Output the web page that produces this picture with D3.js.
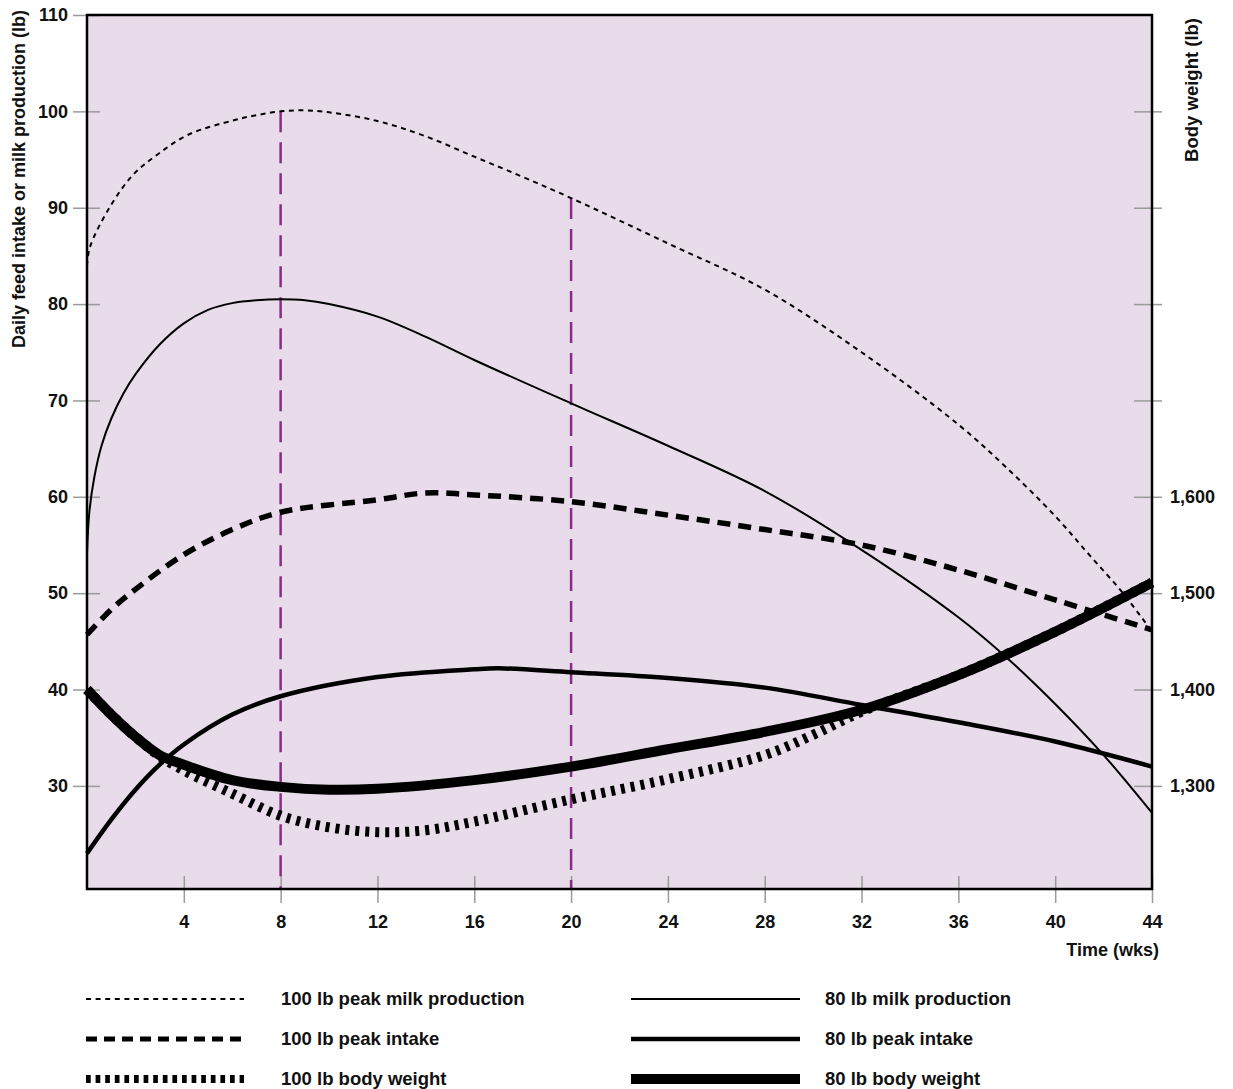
<!DOCTYPE html>
<html>
<head>
	<title>Milk, intake and body weight</title>
	<script src="https://cdn.jsdelivr.net/npm/d3@7/dist/d3.min.js"></script>
	<style type="text/css">
	html, body{
		margin:0;
		background:#fff;
	}
	svg text{
		font-family: "Liberation Sans", Arial, sans-serif;
		font-weight: bold;
		fill: #111;
	}
	</style>
</head>
<body>
<svg id="chart" width="1233" height="1089"></svg>
<script type="text/javascript">
// values, in left-axis units (lb/day); body weight = 1000 + 10*value
var milk100Weeks = [0, 0.12, 0.95, 1.9, 2.9, 4.2, 6.1, 7, 8, 9, 10, 12, 14, 16, 18, 20, 24, 28, 32, 36, 38, 40, 41.4, 42.8, 44];
var milk100 = [84, 85.9, 90.1, 93.4, 95.5, 97.6, 99.1, 99.6, 100, 100.1, 99.9, 99, 97.4, 95.3, 93.2, 91, 86.3, 81.5, 75, 67.5, 63, 58, 54, 50, 46];

var milk80Weeks = [0, 0.1, 0.3, 0.6, 1, 1.5, 2, 3, 4, 5, 6, 7, 8, 9, 10, 12, 14, 16, 20, 24, 28, 32, 36, 38, 40, 42, 44];
var milk80 = [54.2, 58.5, 62, 65.3, 68.1, 70.7, 72.7, 75.8, 78, 79.4, 80.1, 80.4, 80.5, 80.4, 80, 78.7, 76.6, 74.2, 69.7, 65.3, 60.6, 54.5, 47.5, 43.3, 38.5, 33.2, 27.2];

var intake100Weeks = [0, 1, 2, 4, 6, 8, 12, 14, 16, 20, 24, 28, 32, 36, 40, 44];
var intake100 = [45.7, 48.3, 50.4, 54, 56.6, 58.4, 59.7, 60.4, 60.2, 59.5, 58.1, 56.6, 55, 52.4, 49.3, 46.2];

var intake80Weeks = [0, 1, 2, 3, 4, 6, 8, 12, 16, 17, 20, 24, 28, 32, 36, 40, 44];
var intake80 = [23, 26.5, 29.6, 32.2, 34.3, 37.4, 39.3, 41.3, 42.1, 42.2, 41.8, 41.2, 40.2, 38.4, 36.6, 34.6, 32];

var bw80Weeks = [0, 1, 2, 3, 4, 6, 8, 10, 12, 16, 20, 24, 28, 32, 36, 40, 44];
var bw80 = [40, 37.4, 35.1, 33.2, 32.2, 30.6, 29.9, 29.6, 29.7, 30.6, 32, 33.8, 35.6, 37.9, 41.5, 46, 51.1];

var bw100Weeks = [0, 1, 2, 3, 4, 6, 8, 10, 12, 14, 16, 20, 24, 28, 30, 32, 36, 40, 44];
var bw100 = [40, 37.4, 35.1, 33.1, 31.6, 29.2, 26.9, 25.7, 25.2, 25.4, 26.3, 28.6, 30.7, 33.2, 35.3, 37.7, 41.5, 46, 51.1];

var markerWeeks = [8, 20];
var markerTops = [100, 91];

var xTicks = [4, 8, 12, 16, 20, 24, 28, 32, 36, 40, 44];
var leftTicks = [110, 100, 90, 80, 70, 60, 50, 40, 30];
var rightTicks = [100, 90, 80, 70, 60, 50, 40, 30];
var rightLabels = ["", "", "", "", "1,600", "1,500", "1,400", "1,300"];

var seriesNames = ["100 lb peak milk production", "100 lb peak intake", "100 lb body weight",
	"80 lb milk production", "80 lb peak intake", "80 lb body weight"];

var svg = d3.select("#chart");
// plot frame (note: "top" is a reserved window property, so use other names)
var plotL = 87, plotR = 1152, plotT = 15, plotB = 889;

var x = d3.scaleLinear().domain([0, 44]).range([plotL, plotR]);
var y = d3.scaleLinear().domain([19.3, 110]).range([plotB, plotT]);

// styles per series, same order as seriesNames (legend swatches are drawn a bit tighter)
var styles = [
	{w: 2, dash: "5,4.5", legW: 2, legDash: "5,4.6"},
	{w: 5.5, dash: "13,8", legW: 5, legDash: "11,7"},
	{w: 10, dash: "4,6", legW: 8, legDash: "4.7,4.9"},
	{w: 2, dash: null, legW: 2, legDash: null},
	{w: 4.5, dash: null, legW: 4.5, legDash: null},
	{w: 10, dash: null, legW: 10, legDash: null}
];

svg.append("rect")
	.attr("x", plotL).attr("y", plotT)
	.attr("width", plotR - plotL).attr("height", plotB - plotT)
	.attr("fill", "#e8dcea");

// axes (gray ticks crossing the frame)
var tickColor = "#9a9a9a";
svg.append("g")
	.attr("transform", "translate(0," + plotB + ")")
	.call(d3.axisBottom(x).tickValues(xTicks).tickSizeInner(14).tickSizeOuter(0).tickPadding(12))
	.call(function(g){
		g.select(".domain").remove();
		g.selectAll(".tick line").attr("stroke", tickColor).attr("stroke-width", 1.5).attr("y1", -13);
		g.selectAll(".tick text").attr("font-size", 18).attr("fill", "#111");
	});

svg.append("g")
	.attr("transform", "translate(" + plotL + ",0)")
	.call(d3.axisLeft(y).tickValues(leftTicks).tickSizeInner(14).tickSizeOuter(0).tickPadding(5))
	.call(function(g){
		g.select(".domain").remove();
		g.selectAll(".tick line").attr("stroke", tickColor).attr("stroke-width", 1.5).attr("x1", 13);
		g.selectAll(".tick text").attr("font-size", 18).attr("fill", "#111");
	});

svg.append("g")
	.attr("transform", "translate(" + plotR + ",0)")
	.call(d3.axisRight(y).tickValues(rightTicks).tickSizeInner(10).tickSizeOuter(0).tickPadding(8)
		.tickFormat(function(d, i){ return rightLabels[i]; }))
	.call(function(g){
		g.select(".domain").remove();
		g.selectAll(".tick line").attr("stroke", tickColor).attr("stroke-width", 1.5).attr("x1", -18);
		g.selectAll(".tick text").attr("font-size", 18).attr("fill", "#111");
	});

// purple markers
var line = d3.line().x(function(d){ return x(d[0]); }).y(function(d){ return y(d[1]); })
	.curve(d3.curveCatmullRom);

svg.selectAll(".marker")
	.data(markerWeeks)
	.enter().append("line")
	.attr("class", "marker")
	.attr("x1", function(d){ return x(d); })
	.attr("x2", function(d){ return x(d); })
	.attr("y1", function(d, i){ return y(markerTops[i]); })
	.attr("y2", plotB)
	.attr("stroke", "#8a2b8c")
	.attr("stroke-width", 2.5)
	.attr("stroke-dasharray", "21,10");

var series = [
	d3.zip(milk100Weeks, milk100),
	d3.zip(intake100Weeks, intake100),
	d3.zip(bw100Weeks, bw100),
	d3.zip(milk80Weeks, milk80),
	d3.zip(intake80Weeks, intake80),
	d3.zip(bw80Weeks, bw80)
];

var drawOrder = [2, 5, 1, 4, 0, 3];
drawOrder.forEach(function(i){
	svg.append("path")
		.datum(series[i])
		.attr("d", line)
		.attr("fill", "none")
		.attr("stroke", "#000")
		.attr("stroke-width", styles[i].w)
		.attr("stroke-dasharray", styles[i].dash);
});

// frame
svg.append("rect")
	.attr("x", plotL).attr("y", plotT)
	.attr("width", plotR - plotL).attr("height", plotB - plotT)
	.attr("fill", "none").attr("stroke", "#000").attr("stroke-width", 2.5);

// axis titles
svg.append("text")
	.attr("transform", "translate(25,10) rotate(-90)")
	.attr("text-anchor", "end")
	.attr("font-size", 18)
	.text("Daily feed intake or milk production (lb)");

svg.append("text")
	.attr("transform", "translate(1198,18) rotate(-90)")
	.attr("text-anchor", "end")
	.attr("font-size", 18.5)
	.text("Body weight (lb)");

svg.append("text")
	.attr("x", 1159).attr("y", 956)
	.attr("text-anchor", "end")
	.attr("font-size", 18)
	.text("Time (wks)");

// legend
var legend = svg.selectAll(".legend")
	.data(seriesNames)
	.enter().append("g")
	.attr("class", "legend")
	.attr("transform", function(d, i){
		var col = Math.floor(i / 3), row = i % 3;
		return "translate(" + (col ? 631 : 86) + "," + (999 + row * 40) + ")";
	});

legend.append("line")
	.attr("x1", 0)
	.attr("x2", function(d, i){ return i < 3 ? 158 : 169; })
	.attr("stroke", "#000")
	.attr("stroke-width", function(d, i){ return styles[i].legW; })
	.attr("stroke-dasharray", function(d, i){ return styles[i].legDash; });

legend.append("text")
	.attr("x", function(d, i){ return i < 3 ? 195 : 194; })
	.attr("y", 6)
	.attr("font-size", 18.5)
	.text(function(d){ return d; });
</script>
</body>
</html>
